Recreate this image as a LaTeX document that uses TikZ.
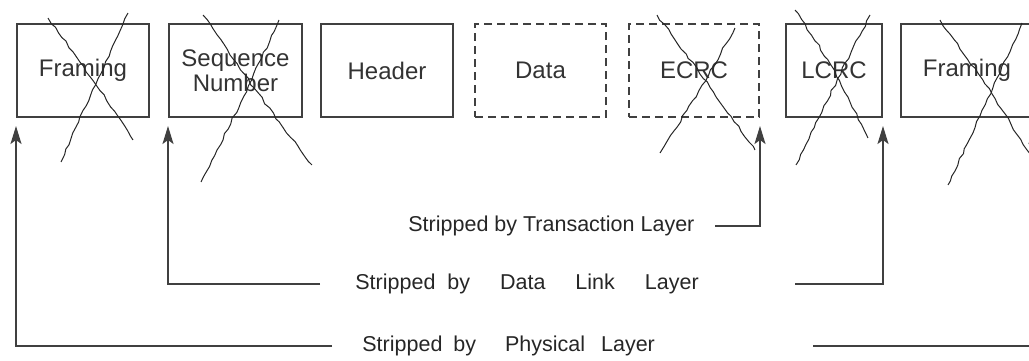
\documentclass[tikz,border=0pt]{standalone}
\usepackage{fontspec}
\setmainfont{Liberation Sans}
\usetikzlibrary{arrows.meta,decorations.pathmorphing}
\begin{document}
\begin{tikzpicture}[x=0.5pt, y=-0.5pt, >={Stealth[length=9pt,width=5.5pt,inset=2pt]},
    field/.style={draw=black!75, line width=1pt, inner sep=0pt, minimum height=46.5pt,
                  font=\fontsize{12}{12.5}\selectfont, text=black!80, align=center},
    optfield/.style={field, dash pattern=on 4pt off 2.5pt},
    strike/.style={line width=0.5pt, black!85, decorate,
                   decoration={random steps, segment length=3pt, amplitude=0.5pt}},
    lead/.style={line width=1pt, black!75},
    note/.style={anchor=west, inner sep=0pt, font=\fontsize{10.75}{12}\selectfont, text=black!85}]
    \useasboundingbox (0,0) rectangle (1029,360);
    % packet fields
    \node[field, minimum width=66pt]   (frA)  at (83,70.5)    {Framing};
    \node[field, minimum width=66.5pt] (seq)  at (235.5,70.5) {Sequence\\Number};
    \node[field, minimum width=66pt]   (hdr)  at (387,70.5)   {Header};
    \node[optfield, minimum width=65.5pt] (data) at (540.5,70.5) {Data};
    \node[optfield, minimum width=65pt]   (ecrc) at (694,70.5)   {ECRC};
    \node[field, minimum width=48pt]   (lcrc) at (834,70.5)   {LCRC};
    \node[field, minimum width=66pt]   (frB)  at (967,70.5)   {Framing};
    % crossed out fields
    \draw[strike] (48,18) .. controls (90,75) .. (133,140);
    \draw[strike] (128,13) .. controls (95,85) .. (61,162);
    \draw[strike] (203,15) .. controls (255,90) .. (312,165);
    \draw[strike] (279,20) .. controls (240,105) .. (201,182);
    \draw[strike] (657,15) .. controls (705,80) .. (755,150);
    \draw[strike] (735,28) .. controls (700,90) .. (660,153);
    \draw[strike] (795,10) .. controls (835,70) .. (868,138);
    \draw[strike] (870,15) .. controls (832,90) .. (796,165);
    \draw[strike] (940,20) .. controls (990,90) .. (1032,158);
    \draw[strike] (1022,23) .. controls (985,105) .. (948,185);
    % who strips what
    \node[note] (tl)  at (408,226) {Stripped by Transaction Layer};
    \node[note] (dll) at (355,284) {Stripped\hspace{3pt} by\hspace{12pt} Data\hspace{12pt} Link\hspace{12pt} Layer};
    \node[note] (pl)  at (362,346) {Stripped\hspace{2.5pt} by\hspace{11.5pt} Physical\hspace{5pt} Layer};
    \coordinate (tlR)  at (715,226);
    \coordinate (dllL) at (320,284);
    \coordinate (dllR) at (795,284);
    \coordinate (plL)  at (332,346);
    \coordinate (plR)  at (813,346);
    \draw[lead, ->] (tlR) -| ([yshift=-4pt]ecrc.south east);
    \draw[lead, ->] (dllL) -| ([yshift=-4pt]seq.south west);
    \draw[lead, ->] (dllR) -| ([yshift=-4pt]lcrc.south east);
    \draw[lead, ->] (plL) -| ([yshift=-4pt]frA.south west);
    \draw[lead, ->] (plR) -| ([yshift=-4pt]frB.south east);
\end{tikzpicture}
\end{document}
